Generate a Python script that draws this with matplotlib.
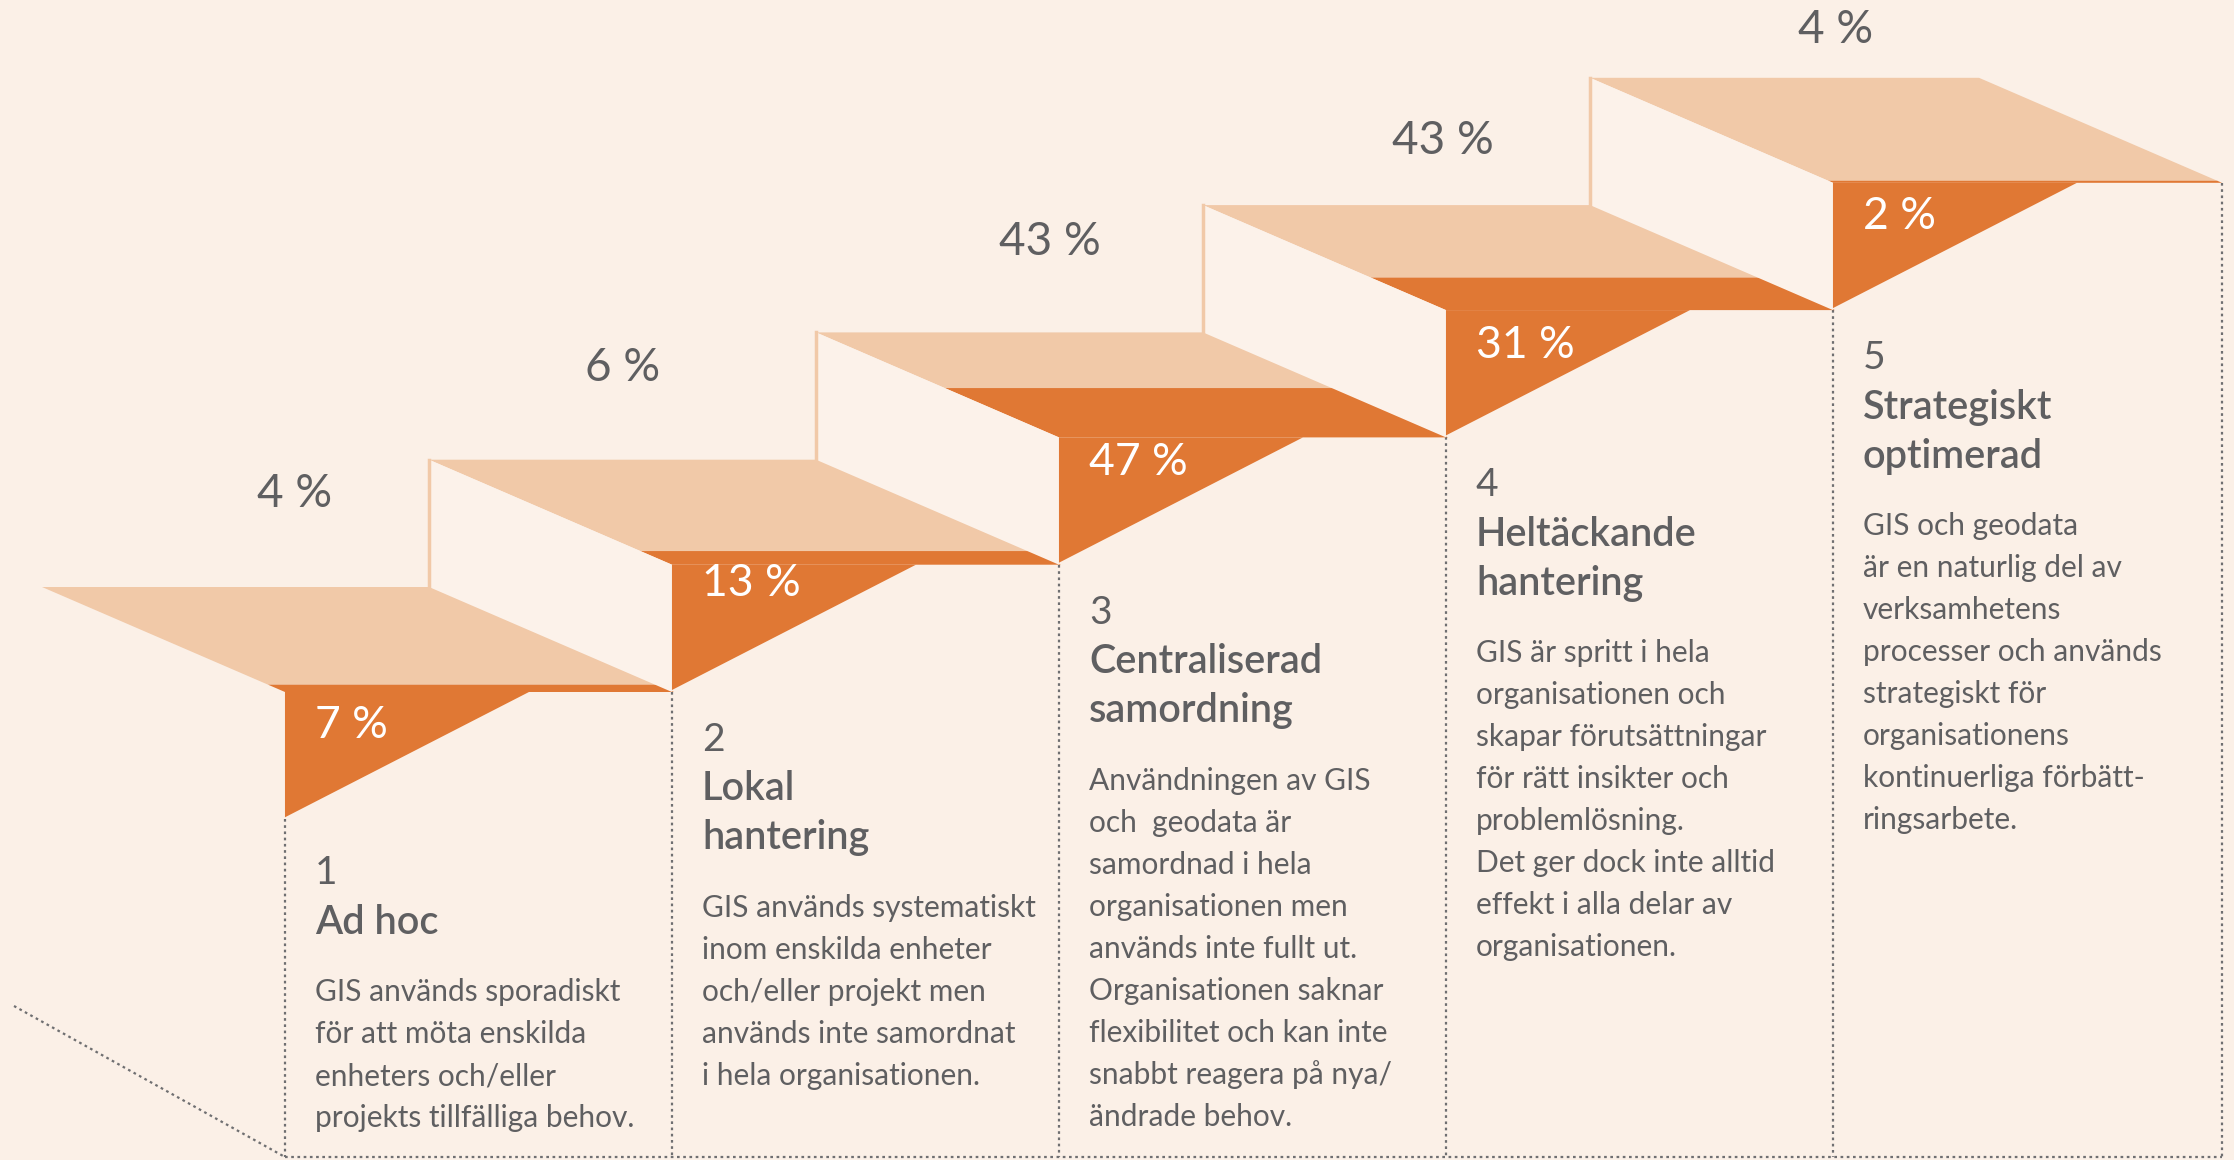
import matplotlib.pyplot as plt
from matplotlib.patches import Polygon

# survey shares per maturity level (grey = above the step, white = in the orange wedge)
levels = [1, 2, 3, 4, 5]
share_upper = [4, 6, 43, 43, 4]
share_lower = [7, 13, 47, 31, 2]
titles = ["Ad hoc", "Lokal\nhantering", "Centraliserad\nsamordning",
          "Heltäckande\nhantering", "Strategiskt\noptimerad"]
descriptions = [
    "GIS används sporadiskt\nför att möta enskilda\nenheters och/eller\nprojekts tillfälliga behov.",
    "GIS används systematiskt\ninom enskilda enheter\noch/eller projekt men\nanvänds inte samordnat\ni hela organisationen.",
    "Användningen av GIS\noch  geodata är\nsamordnad i hela\norganisationen men\nanvänds inte fullt ut.\n"
    "Organisationen saknar\nflexibilitet och kan inte\nsnabbt reagera på nya/\nändrade behov.",
    "GIS är spritt i hela\norganisationen och\nskapar förutsättningar\nför rätt insikter och\nproblemlösning.\n"
    "Det ger dock inte alltid\neffekt i alla delar av\norganisationen.",
    "GIS och geodata\när en naturlig del av\nverksamhetens\nprocesser och används\nstrategiskt för\n"
    "organisationens\nkontinuerliga förbätt-\nringsarbete.",
]

BG = "#fbf0e7"
LIGHT = "#f1c9a8"
ORANGE = "#e07834"
GREY = "#5f5f61"
DOT = "#6f6f71"

# stair geometry (pixels)
x0, y0 = 42, 587          # back-left corner of first tread
pitch_x, pitch_y = 387, 127.3
tread_w = 389
depth = 105               # tread depth incl. orange nose
slant = 2.314             # x shift per pixel of depth
wedge_w = 244
bottom = 1157

# hand placed label nudges
upper_xy = [(295, 494), (623, 368), (1050, 242), (1443, 141), (1836, 30)]
inner_dy = [33, 19, 25, 35, 34]
text_dy = [54, 48, 48, 48, 48]

plt.rcParams['font.family'] = ['Lato', 'DejaVu Sans']
fig = plt.figure(figsize=(22.34, 11.60), dpi=100)
fig.patch.set_facecolor(BG)
ax = fig.add_axes([0, 0, 1, 1])
ax.set_xlim(0, 2234)
ax.set_ylim(1160, 0)
ax.axis('off')
ax.set_facecolor(BG)

dots = dict(color=DOT, lw=1.6, linestyle=(0, (1.2, 1.6)), zorder=1)

fronts = []
for k, lvl in enumerate(levels):
    L = x0 + pitch_x * k
    B = y0 - pitch_y * k
    X = L + depth * slant
    S = B + depth
    fronts.append(X)
    t = share_lower[k] / 100 * depth
    yc = S - t
    xc = L + (depth - t) * slant
    # tread (light) and orange nose
    ax.add_patch(Polygon([(L, B), (L + tread_w, B), (xc + tread_w, yc), (xc, yc)],
                         closed=True, fc=LIGHT, ec='none', zorder=2))
    ax.add_patch(Polygon([(xc, yc), (xc + tread_w, yc), (X + tread_w, S), (X, S)],
                         closed=True, fc=ORANGE, ec='none', zorder=2))
    # riser (side face) between this and the previous tread
    if k > 0:
        ax.add_patch(Polygon([(L, B), (X, S), (X, S + pitch_y), (L, B + pitch_y)],
                             closed=True, fc="#fcf2ea", ec='none', zorder=3))
        ax.plot([L, L], [B, B + pitch_y], color=LIGHT, lw=2.5, zorder=4)
    # wedge
    tip = S + pitch_y
    ax.add_patch(Polygon([(X, S), (X + wedge_w, S), (X, tip - 2)],
                         closed=True, fc=ORANGE, ec='none', zorder=4))
    # dotted guide down to the floor
    ax.plot([X, X], [tip, bottom], **dots)

    # labels
    ux, uy = upper_xy[k]
    ax.text(ux, uy, f"{share_upper[k]} %", color=GREY, fontsize=33,
            ha='center', va='center', zorder=5)
    ax.text(X + 30, S + inner_dy[k], f"{share_lower[k]} %", color='white', fontsize=32,
            ha='left', va='center', zorder=5)

    ty = tip + text_dy[k]
    ax.text(X + 30, ty, str(lvl), color=GREY, fontsize=28, ha='left', va='center', zorder=5)
    for line in titles[k].split("\n"):
        ty += 49
        ax.text(X + 30, ty, line, color=GREY, fontsize=28.5, fontweight='semibold',
                ha='left', va='center', zorder=5)
    ty += 28
    for line in descriptions[k].split("\n"):
        ty += 42
        ax.text(X + 30, ty, line, color=GREY, fontsize=21.5, ha='left', va='center', zorder=5)

# right edge and floor lines
last_right = fronts[-1] + tread_w
ax.plot([last_right, last_right], [y0 - pitch_y * 4 + depth, bottom], **dots)
ax.plot([fronts[0], last_right], [bottom, bottom], **dots)
ax.plot([14, fronts[0]], [1006, bottom], **dots)

fig.savefig("out.png", dpi=100, facecolor=BG)
